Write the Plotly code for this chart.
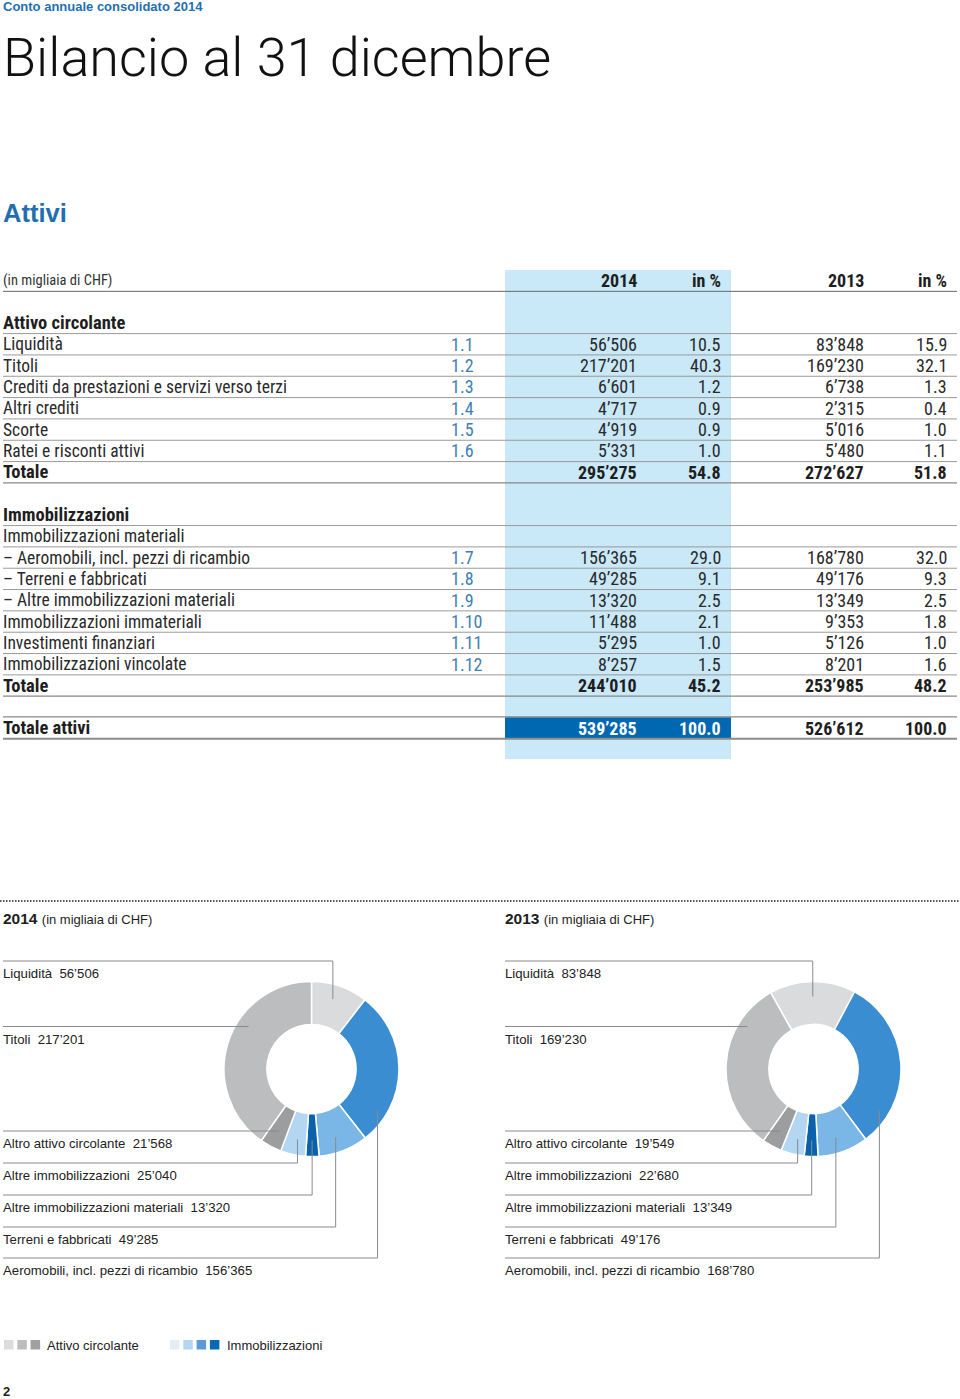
import math
import plotly.graph_objects as go

# ---------------- data ----------------
ac_labels = ["Liquidità", "Titoli", "Crediti da prestazioni e servizi verso terzi",
             "Altri crediti", "Scorte", "Ratei e risconti attivi"]
ac_refs = ["1.1", "1.2", "1.3", "1.4", "1.5", "1.6"]
ac_2014 = [56506, 217201, 6601, 4717, 4919, 5331]
ac_2014_pct = [10.5, 40.3, 1.2, 0.9, 0.9, 1.0]
ac_2013 = [83848, 169230, 6738, 2315, 5016, 5480]
ac_2013_pct = [15.9, 32.1, 1.3, 0.4, 1.0, 1.1]
ac_tot = [295275, 54.8, 272627, 51.8]

im_labels = ["Immobilizzazioni materiali", "– Aeromobili, incl. pezzi di ricambio",
             "– Terreni e fabbricati", "– Altre immobilizzazioni materiali",
             "Immobilizzazioni immateriali", "Investimenti finanziari",
             "Immobilizzazioni vincolate"]
im_refs = [None, "1.7", "1.8", "1.9", "1.10", "1.11", "1.12"]
im_2014 = [None, 156365, 49285, 13320, 11488, 5295, 8257]
im_2014_pct = [None, 29.0, 9.1, 2.5, 2.1, 1.0, 1.5]
im_2013 = [None, 168780, 49176, 13349, 9353, 5126, 8201]
im_2013_pct = [None, 32.0, 9.3, 2.5, 1.8, 1.0, 1.6]
im_tot = [244010, 45.2, 253985, 48.2]
grand_tot = [539285, 100.0, 526612, 100.0]

pie_names = ["Liquidità", "Aeromobili, incl. pezzi di ricambio", "Terreni e fabbricati",
             "Altre immobilizzazioni materiali", "Altre immobilizzazioni",
             "Altro attivo circolante", "Titoli"]
pie_2014 = [56506, 156365, 49285, 13320, 25040, 21568, 217201]
pie_2013 = [83848, 168780, 49176, 13349, 22680, 19549, 169230]
pie_colors = ["#dadbdd", "#3a8dd0", "#7ab7e6", "#0a62ad", "#b3d6f2", "#9c9d9f", "#bcbdbf"]

# label order in the panels (top labels, bottom labels)
top_order = ["Liquidità", "Titoli"]
bottom_order = ["Altro attivo circolante", "Altre immobilizzazioni",
                "Altre immobilizzazioni materiali", "Terreni e fabbricati",
                "Aeromobili, incl. pezzi di ricambio"]

legend_gray = ["#dcdcdc", "#bdbdbd", "#a0a0a0"]
legend_blue = ["#e2edf8", "#b4d6f1", "#5b9bd5", "#0b69b3"]

# ---------------- helpers / styles ----------------
W, H = 960, 1399
NARROW = "Liberation Sans Narrow, Arial Narrow, Roboto Condensed, sans-serif"
SANS = "Liberation Sans, Arial, Helvetica, sans-serif"
TXT = "#1e1e1e"
REFC = "#3f7fb5"
BLUE = "#1f6fb2"


def fmt(v):
    return f"{v:,}".replace(",", "’")


def fpct(v):
    return f"{v:.1f}"


annotations = []
shapes = []


def txt(x, y, s, size=15, color=TXT, anchor="left", bold=False, family=NARROW, weight=None):
    w = weight if weight is not None else (700 if bold else 400)
    annotations.append(dict(x=x, y=y, xref="x", yref="y", text=s, showarrow=False,
                            xanchor=anchor, yanchor="middle",
                            font=dict(family=family, size=size, color=color, weight=w)))


def line(x0, y0, x1, y1, color="#9a9a9a", width=1, dash=None):
    ln = dict(color=color, width=width)
    if dash:
        ln["dash"] = dash
    shapes.append(dict(type="line", xref="x", yref="y", x0=x0, y0=y0, x1=x1, y1=y1,
                       line=ln, layer="above"))


def rect(x0, y0, x1, y1, color, layer="below"):
    shapes.append(dict(type="rect", xref="x", yref="y", x0=x0, y0=y0, x1=x1, y1=y1,
                       fillcolor=color, line=dict(width=0), layer=layer))


# ---------------- header ----------------
txt(1, 6, "Conto annuale consolidato 2014", size=13, color=BLUE, bold=True, family=SANS)
txt(0.5, 57, "Bilancio al 31 dicembre", size=54, color="#111", family="Roboto, Liberation Sans", weight=300)
txt(1, 213, "Attivi", size=25.5, color=BLUE, bold=True, family=SANS)

# ---------------- table ----------------
X_LAB, X_REF, X_V14, X_P14, X_V13, X_P13 = 1, 449, 639, 723, 866, 949
BAND_X0, BAND_X1 = 505, 731
Y0, PITCH = 323, 21.33
FS_LAB, FS_BOLD, FS_NUM = 17.5, 18.5, 18


def ry(i):
    return Y0 + i * PITCH


rect(BAND_X0, 270, BAND_X1, 759, "#c9e8f8")

# header row
hy = ry(-2)
txt(X_LAB, hy, "(in migliaia di CHF)", size=14.5, color="#333")
for x, s in [(X_V14, "2014"), (X_P14, "in %"), (X_V13, "2013"), (X_P13, "in %")]:
    txt(x, hy, s, size=18, anchor="right", bold=True)
line(3, hy + 11, 957, hy + 11, color="#666", width=1)


def row(i, label, ref=None, vals=None, bold=False, sep=True, sepcolor="#9a9a9a", sepw=1,
        valcolor=TXT):
    y = ry(i)
    txt(X_LAB, y, label, size=FS_BOLD if bold else FS_LAB, bold=bold,
        color=TXT if bold else "#2a2a2a")
    if ref:
        txt(X_REF, y, ref, size=FS_NUM, color=REFC)
    if vals:
        v14, p14, v13, p13 = vals
        c14 = valcolor if bold else "#2a2a2a"
        c13 = TXT if bold else "#2a2a2a"
        txt(X_V14, y, fmt(v14), size=FS_NUM, anchor="right", bold=bold, color=c14)
        txt(X_P14, y, fpct(p14), size=FS_NUM, anchor="right", bold=bold, color=c14)
        txt(X_V13, y, fmt(v13), size=FS_NUM, anchor="right", bold=bold, color=c13)
        txt(X_P13, y, fpct(p13), size=FS_NUM, anchor="right", bold=bold, color=c13)
    if sep:
        line(3, y + 10.6, 957, y + 10.6, color=sepcolor, width=sepw)


row(0, "Attivo circolante", bold=True)
for k in range(len(ac_labels)):
    row(1 + k, ac_labels[k], ac_refs[k], [ac_2014[k], ac_2014_pct[k], ac_2013[k], ac_2013_pct[k]])
row(7, "Totale", vals=ac_tot, bold=True, sepcolor="#888", sepw=1.3)

row(9, "Immobilizzazioni", bold=True)
for k in range(len(im_labels)):
    vals = None if im_2014[k] is None else [im_2014[k], im_2014_pct[k], im_2013[k], im_2013_pct[k]]
    row(10 + k, im_labels[k], im_refs[k], vals)
row(17, "Totale", vals=im_tot, bold=True, sepcolor="#888", sepw=1.3)

# grand total
line(3, ry(19) - 11.3, 957, ry(19) - 11.3, color="#888", width=1.3)
rect(BAND_X0, ry(19) - 11, BAND_X1, ry(19) + 10, "#0067b1", layer="below")
row(19, "Totale attivi", vals=grand_tot, bold=True, sepcolor="#8c8c8c", sepw=2, valcolor="white")

# ---------------- donut panels ----------------
line(0, 901, 960, 901, color="#222", width=1.5, dash="1.5px,1.5px")

R_OUT, HOLE = 87.5, 0.51
R_IN = R_OUT * HOLE
R_MID = (R_OUT + R_IN) / 2
LAB_TOP_Y = [961, 1026.5]
LAB_BOT_Y = [1131, 1163, 1195, 1227, 1258]

# both donuts are aligned on the start angle of the "Titoli" slice (taken from 2014)
TIT = pie_names.index("Titoli")
titoli_start = 360.0 * (1 - pie_2014[TIT] / sum(pie_2014))

panels = [
    dict(year="2014", vals=pie_2014, x0=0, cx=311.5, cy=1069),
    dict(year="2013", vals=pie_2013, x0=502, cx=813.5, cy=1069),
]

traces = []
for p in panels:
    vals, cx, cy, x0 = p["vals"], p["cx"], p["cy"], p["x0"]
    total = sum(vals)
    rot = titoli_start - 360.0 * (1 - vals[TIT] / total)
    traces.append(go.Pie(
        values=vals, labels=pie_names, sort=False, direction="clockwise", rotation=rot,
        hole=HOLE, textinfo="none", hoverinfo="label+value",
        marker=dict(colors=pie_colors, line=dict(color="white", width=1.5)),
        domain=dict(x=[(cx - R_OUT) / W, (cx + R_OUT) / W],
                    y=[1 - (cy + R_OUT) / H, 1 - (cy - R_OUT) / H]),
        showlegend=False))

    # panel heading
    annotations.append(dict(x=x0 + 1, y=918, xref="x", yref="y", showarrow=False,
                            xanchor="left", yanchor="middle",
                            text="<b>" + p["year"] + "</b> <span style='font-size:13px'>(in migliaia di CHF)</span>",
                            font=dict(family=SANS, size=15.5, color=TXT)))

    cum = 0
    anchors = {}
    for name, v in zip(pie_names, vals):
        mid = math.radians(rot) + (cum + v / 2) / total * 2 * math.pi
        cum += v
        ax = cx + R_MID * math.sin(mid)
        ay = cy - R_MID * math.cos(mid)
        anchors[name] = (ax, ay)

    def label_text(name):
        return f"{name}  {fmt(vals[pie_names.index(name)])}"

    # top labels
    for name, ly in zip(top_order, LAB_TOP_Y):
        ax, ay = anchors[name]
        txt(x0 + 1, ly + 12.5, label_text(name), size=13.2, family=SANS, color="#222")
        if name == "Liquidità":
            dx = ax - cx
            ey = cy - (math.sqrt(R_OUT ** 2 - dx ** 2) - 15)
            line(x0 + 3, ly, ax, ly, color="#8a8a8a")
            line(ax, ly, ax, ey, color="#8a8a8a")
        else:
            line(x0 + 3, ly, ax, ly, color="#8a8a8a")

    # bottom labels
    for name, ly in zip(bottom_order, LAB_BOT_Y):
        ax, ay = anchors[name]
        txt(x0 + 1, ly + 12.5, label_text(name), size=13.2, family=SANS, color="#222")
        if name == "Altro attivo circolante":
            line(x0 + 3, ly, ax - 2, ly, color="#8a8a8a")
        else:
            dx = ax - cx
            ey = cy + (math.sqrt(max(R_OUT ** 2 - dx ** 2, 0)) - 16)
            line(x0 + 3, ly, ax, ly, color="#8a8a8a")
            line(ax, ly, ax, ey, color="#8a8a8a")

# ---------------- legend ----------------
LY = 1345
lx = 4
for c in legend_gray:
    rect(lx, LY - 5, lx + 9.5, LY + 4.5, c, layer="above")
    lx += 13.3
txt(45, LY, "Attivo circolante", size=13, family=SANS, color="#222")
lx = 170
for c in legend_blue:
    rect(lx, LY - 5, lx + 9.5, LY + 4.5, c, layer="above")
    lx += 13.3
txt(225, LY, "Immobilizzazioni", size=13, family=SANS, color="#222")

txt(0.5, 1391, "2", size=13, bold=True, family=SANS)

# ---------------- figure ----------------
fig = go.Figure(traces)
fig.update_layout(
    width=W, height=H, margin=dict(l=0, r=0, t=0, b=0),
    paper_bgcolor="white", plot_bgcolor="rgba(0,0,0,0)",
    xaxis=dict(range=[0, W], visible=False, fixedrange=True, domain=[0, 1]),
    yaxis=dict(range=[H, 0], visible=False, fixedrange=True, domain=[0, 1]),
    annotations=annotations, shapes=shapes, showlegend=False,
)
fig.write_html("out.html", config=dict(displayModeBar=False),
               post_script="document.body.style.margin='0';document.body.style.padding='0';"
                           "document.body.style.overflow='hidden';")
